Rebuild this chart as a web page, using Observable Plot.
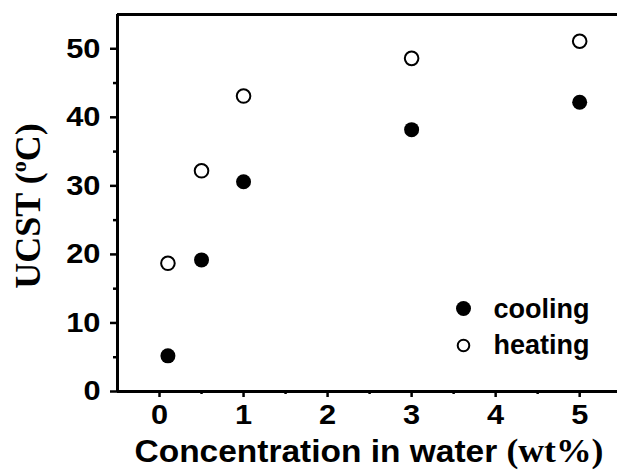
<!DOCTYPE html>
<html>
<head>
<meta charset="utf-8">
<script src="https://cdn.jsdelivr.net/npm/d3@7"></script>
<script src="https://cdn.jsdelivr.net/npm/@observablehq/plot@0.6"></script>
<style>
  html, body { margin: 0; padding: 0; background: #fff; overflow: hidden; }
  #chart svg { display: block; }
</style>
</head>
<body>
<div id="chart"></div>
<script>
// UCST measured on cooling and heating runs vs. polymer concentration
const concentration = [0.1, 0.5, 1, 3, 5];            // wt%
const coolingUCST   = [5.2, 19.2, 30.6, 38.2, 42.2];   // °C
const heatingUCST   = [18.7, 32.2, 43.1, 48.6, 51.1];  // °C
const seriesNames   = ["cooling", "heating"];

const xTicks      = [0, 1, 2, 3, 4, 5];
const xMinorTicks = [0.5, 1.5, 2.5, 3.5, 4.5];
const yTicks      = [0, 10, 20, 30, 40, 50];
const yMinorTicks = [5, 15, 25, 35, 45];

const cooling = concentration.map((c, i) => ({c, t: coolingUCST[i]}));
const heating = concentration.map((c, i) => ({c, t: heatingUCST[i]}));

const sans = "'Liberation Sans', Arial, sans-serif";
const serif = "'Liberation Serif', 'Times New Roman', serif";

const W = 617, H = 470;
const mL = 117, mT = 14, mB = 79, mR = 0;
const xDomain = [-0.5, 5.45];
const yDomain = [0, 55];
const tickFont = 28;
const legendFont = 27;

const chart = Plot.plot({
  width: W,
  height: H,
  marginLeft: mL,
  marginTop: mT,
  marginBottom: mB,
  marginRight: mR,
  style: {fontFamily: sans, fontWeight: "bold", fontSize: "24px", color: "#000", background: "#fff", overflow: "visible"},
  x: {domain: xDomain, label: null},
  y: {domain: yDomain, label: null},
  marks: [
    // frame: left axis, bottom axis, top border
    Plot.ruleX([xDomain[0]], {strokeWidth: 3}),
    Plot.ruleY([yDomain[0], yDomain[1]], {strokeWidth: 3}),
    // major and minor ticks
    Plot.axisY({ticks: yTicks, tickFormat: d3.format("d"), tickSize: 7, tickPadding: 10, strokeWidth: 2.5, fontSize: tickFont, fontWeight: "bold", className: "tick-labels"}),
    Plot.axisY({ticks: yMinorTicks, tickSize: 4, strokeWidth: 2.5, text: null}),
    Plot.axisX({ticks: xTicks, tickFormat: d3.format("d"), tickSize: 6, tickPadding: 7, strokeWidth: 2.5, fontSize: tickFont, fontWeight: "bold", className: "tick-labels"}),
    Plot.axisX({ticks: xMinorTicks, tickSize: 3, strokeWidth: 2.5, text: null}),
    // data
    Plot.dot(cooling, {x: "c", y: "t", r: 7.5, fill: "#000", stroke: "none"}),
    Plot.dot(heating, {x: "c", y: "t", r: 6.8, fill: "#fff", stroke: "#000", strokeWidth: 2}),
    // legend
    Plot.dot([seriesNames[0]], {frameAnchor: "top-left", dx: 346, dy: 294, r: 7.5, fill: "#000", stroke: "none"}),
    Plot.dot([seriesNames[1]], {frameAnchor: "top-left", dx: 346, dy: 331, r: 5.8, fill: "#fff", stroke: "#000", strokeWidth: 2}),
    Plot.text([seriesNames[0]], {text: d => d, frameAnchor: "top-left", dx: 376, dy: 294.4, textAnchor: "start", lineAnchor: "middle", fontSize: legendFont, fontWeight: "bold"}),
    Plot.text([seriesNames[1]], {text: d => d, frameAnchor: "top-left", dx: 376, dy: 330.4, textAnchor: "start", lineAnchor: "middle", fontSize: legendFont, fontWeight: "bold"})
  ]
});

document.getElementById("chart").appendChild(chart);

// widen glyphs horizontally (the lettering is set slightly expanded)
function expand(selection, k) {
  selection.each(function () {
    const len = this.getComputedTextLength();
    this.setAttribute("textLength", (len * k).toFixed(1));
    this.setAttribute("lengthAdjust", "spacingAndGlyphs");
  });
}

// axis titles with mixed fonts and a superscript
const svg = d3.select(chart);
const yTitle = svg.append("text")
  .attr("transform", "translate(40,206) rotate(-90)")
  .attr("text-anchor", "middle")
  .attr("font-family", serif)
  .attr("font-weight", "bold")
  .attr("font-size", 36)
  .attr("fill", "#000");
yTitle.append("tspan").text("UCST (");
yTitle.append("tspan").attr("font-size", 22).attr("dy", -14).text("o");
yTitle.append("tspan").attr("dy", 14).text("C)");

const xTitle = svg.append("text")
  .attr("x", 369)
  .attr("y", 462)
  .attr("text-anchor", "middle")
  .attr("font-weight", "bold")
  .attr("fill", "#000");
xTitle.append("tspan").attr("font-family", sans).attr("font-size", 31).text("Concentration in water ");
xTitle.append("tspan").attr("font-family", serif).attr("font-size", 33).text("(wt%)");

expand(svg.selectAll(".tick-labels text"), 1.1);
expand(xTitle, 1.08);
</script>
</body>
</html>
